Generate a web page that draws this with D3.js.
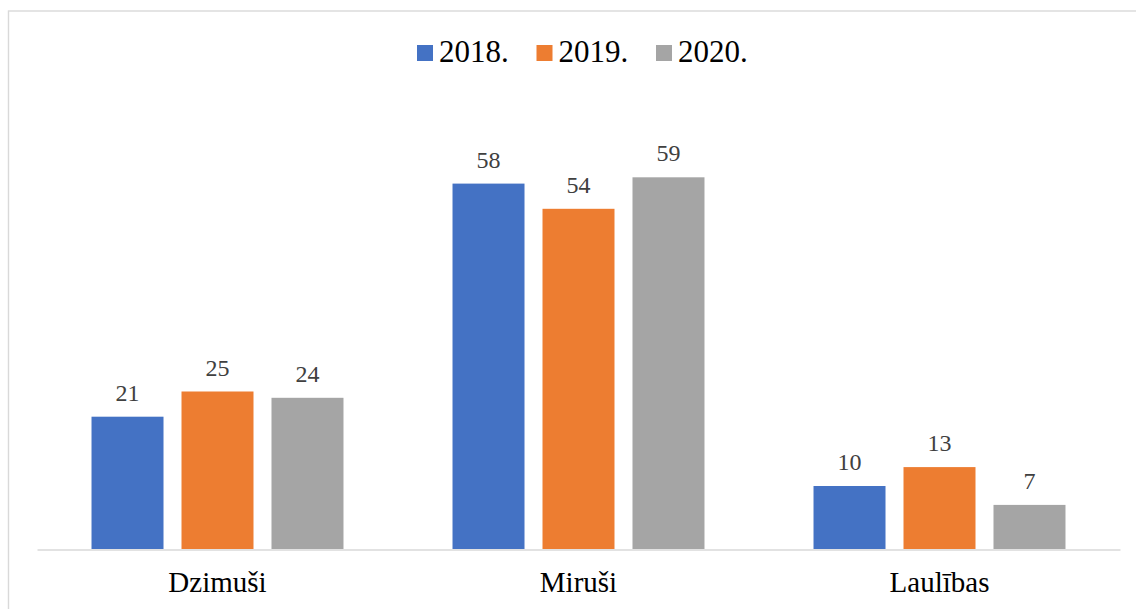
<!DOCTYPE html>
<html>
<head>
<meta charset="utf-8">
<script src="https://cdn.jsdelivr.net/npm/d3@7"></script>
<style>
  body { margin: 0; background: #fff; }
</style>
</head>
<body>
<div id="chart"></div>
<script>
// data
var categories = ["Dzimuši", "Miruši", "Laulības"];
var years = ["2018.", "2019.", "2020."];
var v2018 = [21, 58, 10];
var v2019 = [25, 54, 13];
var v2020 = [24, 59, 7];
var colors = ["#4472C4", "#ED7D31", "#A5A5A5"];

var serif = "'Liberation Serif', 'Times New Roman', Times, serif";

var svgWidth = 1136;
var svgHeight = 609;

var margin = { top: 108, right: 16, bottom: 60, left: 37 };
var chWidth = svgWidth - margin.left - margin.right;
var chHeight = svgHeight - margin.top - margin.bottom;

var series = [v2018, v2019, v2020];

var svg = d3.select("#chart")
  .append("svg")
  .attr("width", svgWidth)
  .attr("height", svgHeight)
  .style("font-family", serif);

// outer frame (runs off the right and bottom edges)
svg.append("rect")
  .attr("x", 8.5)
  .attr("y", 11)
  .attr("width", 1200)
  .attr("height", 700)
  .attr("fill", "none")
  .attr("stroke", "#d9d9d9")
  .attr("stroke-width", 1.4);

var chGroup = svg.append("g")
  .attr("transform", `translate(${margin.left}, ${margin.top})`);

var x0 = d3.scaleBand()
  .domain(categories)
  .range([0, chWidth]);

var x1 = d3.scaleBand()
  .domain(years)
  .range([x0.bandwidth() * 0.151, x0.bandwidth() * 0.849])
  .paddingInner(0.2);

var yScale = d3.scaleLinear()
  .domain([0, 70])
  .range([chHeight, 0]);

// bars + value labels
series.forEach(function(vals, i) {
  chGroup.selectAll(".bar" + i)
    .data(vals)
    .enter()
    .append("rect")
    .attr("x", (d, j) => x0(categories[j]) + x1(years[i]))
    .attr("y", d => yScale(d))
    .attr("width", x1.bandwidth())
    .attr("height", d => chHeight - yScale(d))
    .style("fill", colors[i]);

  chGroup.selectAll(".lab" + i)
    .data(vals)
    .enter()
    .append("text")
    .text(d => d)
    .attr("x", (d, j) => x0(categories[j]) + x1(years[i]) + x1.bandwidth() / 2)
    .attr("y", d => yScale(d) - 16)
    .attr("text-anchor", "middle")
    .attr("font-family", serif)
    .attr("font-size", "24px")
    .style("fill", "#404040");
});

// x axis line and labels
var xAxis = d3.axisBottom(x0).tickSize(0).tickPadding(22);
var gx = chGroup.append("g")
  .attr("transform", `translate(0, ${chHeight + 0.5})`)
  .call(xAxis)
  .attr("font-family", serif);
gx.select(".domain").attr("stroke", "#d9d9d9").attr("stroke-width", 1.4);
gx.selectAll("text")
  .attr("font-size", "29px")
  .attr("font-family", serif)
  .attr("fill", "#000");

// legend
var legend = svg.append("g").attr("transform", "translate(417, 45)");
years.forEach(function(yr, i) {
  var item = legend.append("g").attr("transform", `translate(${i * 119.5}, 0)`);
  item.append("rect")
    .attr("width", 16)
    .attr("height", 16)
    .style("fill", colors[i]);
  item.append("text")
    .attr("x", 22)
    .attr("y", 17)
    .attr("font-family", serif)
    .attr("font-size", "31px")
    .style("fill", "#000")
    .text(yr);
});
</script>
</body>
</html>
